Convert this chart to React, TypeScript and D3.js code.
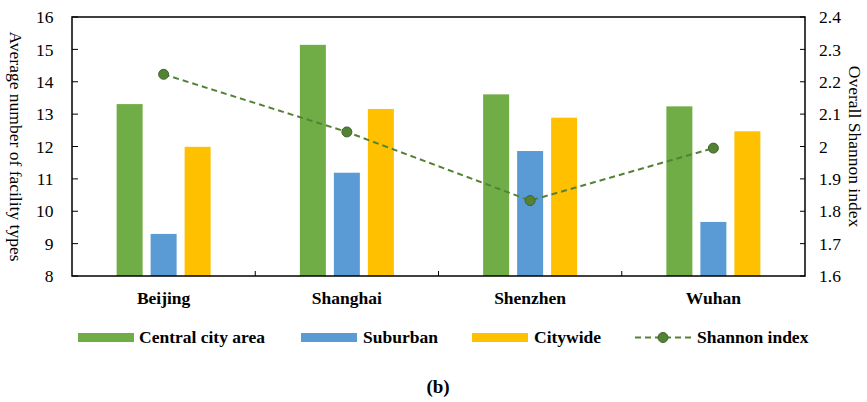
import React from "react";
import * as d3 from "d3";

const cities = ["Beijing", "Shanghai", "Shenzhen", "Wuhan"];
const centralCity = [13.31, 15.14, 13.61, 13.24];
const suburban = [9.3, 11.19, 11.86, 9.67];
const citywide = [11.99, 13.16, 12.89, 12.47];
const shannon = [2.223, 2.045, 1.833, 1.995];
const leftTicks = [8, 9, 10, 11, 12, 13, 14, 15, 16];
const rightTicks = [1.6, 1.7, 1.8, 1.9, 2.0, 2.1, 2.2, 2.3, 2.4];
const seriesNames = ["Central city area", "Suburban", "Citywide"];
const colors = ["#70AD47", "#5B9BD5", "#FFC000"];

export default function App() {
  const W = 867, H = 402;
  const left = 72, right = 805, top = 17, bottom = 276;
  const x = d3.scaleBand<string>().domain(cities).range([left, right]).padding(0);
  const inner = d3.scaleBand<number>().domain([0, 1, 2]).range([0, 94]).paddingInner(8 / 34);
  const yL = d3.scaleLinear().domain([8, 16]).range([bottom, top]);
  const yR = d3.scaleLinear().domain([1.6, 2.4]).range([bottom, top]);
  const series = [centralCity, suburban, citywide];
  const font = "Liberation Serif, Times New Roman, serif";
  const fs = 17.5;
  const line = d3.line<number>()
    .x((_, i) => x(cities[i])! + x.bandwidth() / 2)
    .y((d) => yR(d));
  const rFmt = (v: number) => (Math.abs(v - 2) < 1e-9 ? "2" : d3.format(".1f")(v));

  const legend = [
    { type: "bar", color: colors[0], label: seriesNames[0], sx: 78, tx: 139 },
    { type: "bar", color: colors[1], label: seriesNames[1], sx: 301, tx: 363 },
    { type: "bar", color: colors[2], label: seriesNames[2], sx: 472, tx: 534 },
    { type: "line", color: "#548235", label: "Shannon index", sx: 635, tx: 697 },
  ];

  return (
    <svg width={W} height={H} style={{ position: "absolute", left: 0, top: 0, background: "#fff", fontFamily: font }}>
      {cities.map((c, ci) => {
        const x0 = x(c)! + x.bandwidth() / 2 - 47;
        return series.map((s, si) => (
          <rect key={c + si} x={x0 + inner(si)!} y={yL(s[ci])} width={inner.bandwidth()}
            height={bottom - yL(s[ci])} fill={colors[si]} />
        ));
      })}
      <rect x={left} y={top} width={right - left} height={bottom - top} fill="none" stroke="#000" strokeWidth={1.5} />
      {leftTicks.map((t) => (
        <g key={"l" + t}>
          <line x1={left} x2={left + 6} y1={yL(t)} y2={yL(t)} stroke="#000" strokeWidth={1} />
          <text x={53.5} y={yL(t)} dy="0.35em" textAnchor="end" fontSize={fs}>{t}</text>
        </g>
      ))}
      {rightTicks.map((t) => (
        <g key={"r" + t}>
          <line x1={right - 5} x2={right} y1={yR(t)} y2={yR(t)} stroke="#000" strokeWidth={1} />
          <text x={819} y={yR(t)} dy="0.35em" textAnchor="start" fontSize={fs}>{rFmt(t)}</text>
        </g>
      ))}
      {cities.slice(1).map((c) => (
        <line key={"ct" + c} x1={x(c)} x2={x(c)} y1={bottom} y2={bottom - 5} stroke="#000" strokeWidth={1} />
      ))}
      {cities.map((c) => (
        <text key={"cl" + c} x={x(c)! + x.bandwidth() / 2} y={304} textAnchor="middle" fontSize={fs} fontWeight="bold">{c}</text>
      ))}
      <text transform={`translate(10, ${(top + bottom) / 2}) rotate(90)`} textAnchor="middle" fontSize={fs}>Average number of facility types</text>
      <text transform={`translate(849, ${(top + bottom) / 2}) rotate(90)`} textAnchor="middle" fontSize={fs}>Overall Shannon index</text>
      <path d={line(shannon)!} fill="none" stroke="#548235" strokeWidth={2} strokeDasharray="6,4" />
      {shannon.map((v, i) => (
        <circle key={"p" + i} cx={x(cities[i])! + x.bandwidth() / 2} cy={yR(v)} r={5} fill="#548235" stroke="#3F6428" strokeWidth={1} />
      ))}
      {legend.map((l) => (
        <g key={l.label}>
          {l.type === "bar" ? (
            <rect x={l.sx} y={333} width={56} height={9} fill={l.color} />
          ) : (
            <g>
              <line x1={l.sx} x2={l.sx + 57} y1={337.5} y2={337.5} stroke={l.color} strokeWidth={2} strokeDasharray="6,4" />
              <circle cx={l.sx + 28} cy={337.5} r={5} fill={l.color} stroke="#3F6428" strokeWidth={1} />
            </g>
          )}
          <text x={l.tx} y={343} fontSize={fs} fontWeight="bold">{l.label}</text>
        </g>
      ))}
      <text x={438} y={393} textAnchor="middle" fontSize={19} fontWeight="bold">(b)</text>
    </svg>
  );
}
